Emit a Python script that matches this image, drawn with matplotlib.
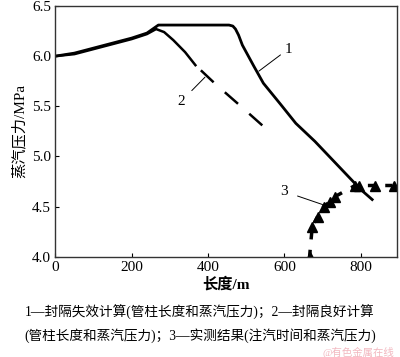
import matplotlib
matplotlib.use("Agg")
import matplotlib.pyplot as plt

plt.rcParams['font.family'] = ['Liberation Serif', 'Noto Sans CJK SC']
plt.rcParams['axes.unicode_minus'] = False

# Curve 1: seal failure calculation
c1_x = [0, 50, 100, 150, 200, 240, 270, 400, 455, 465, 472, 480, 490, 520, 545, 590, 630, 680, 725, 760, 800, 830]
c1_y = [6.00, 6.03, 6.08, 6.13, 6.18, 6.23, 6.31, 6.31, 6.31, 6.30, 6.27, 6.21, 6.11, 5.90, 5.73, 5.52, 5.33, 5.15, 4.97, 4.83, 4.67, 4.57]
# Curve 2: good seal calculation
c2_x = [0, 50, 100, 150, 200, 240, 264, 285, 309, 340, 367, 420, 480, 545]
c2_y = [6.00, 6.02, 6.07, 6.12, 6.17, 6.22, 6.27, 6.24, 6.16, 6.04, 5.91, 5.72, 5.52, 5.30]
c2_solid_n = 11  # first points drawn solid, remainder dashed
# Series 3: measured
m_x = [666, 673, 687, 703, 720, 733, 785, 795, 838, 888]
m_y = [4.00, 4.30, 4.40, 4.50, 4.55, 4.60, 4.71, 4.71, 4.71, 4.71]

x_ticks = [0, 200, 400, 600, 800]
y_ticks = [4.0, 4.5, 5.0, 5.5, 6.0, 6.5]

fig = plt.figure(figsize=(4.0, 3.57), dpi=100)
ax = fig.add_axes([55.3/400, 1-256.7/357, (397-55.3)/400, (256.7-6)/357])

ax.plot(c1_x, c1_y, color='black', lw=2.0, solid_joinstyle='round')
ax.plot(c2_x[:c2_solid_n], c2_y[:c2_solid_n], color='black', lw=1.8)
ax.plot(c2_x[c2_solid_n-1:], c2_y[c2_solid_n-1:], color='black', lw=1.8, dashes=(0, 3, 7, 3))
ax.plot(m_x, m_y, color='black', lw=2.5, linestyle=(0, (2, 3)))
ax.plot(m_x, m_y, linestyle='none', marker='^', color='black', markersize=7)

ax.set_xlim(0, 895)
ax.set_ylim(4.0, 6.5)
ax.set_xticks(x_ticks)
ax.set_yticks(y_ticks)
ax.set_xticklabels([str(v) for v in x_ticks])
ax.set_yticklabels([f"{v:.1f}" for v in y_ticks])
ax.tick_params(direction='in', length=3, width=0.8, labelsize=11, pad=3)
for s in ax.spines.values():
    s.set_linewidth(1.0)
    s.set_color('#333333')

# annotations
ax.annotate('1', xy=(533, 5.85), xytext=(600, 6.07), fontsize=11,
            ha='left', va='center', arrowprops=dict(arrowstyle='-', lw=0.7, color='black', shrinkA=1, shrinkB=0))
ax.annotate('2', xy=(392, 5.79), xytext=(330, 5.55), fontsize=11,
            ha='center', va='center', arrowprops=dict(arrowstyle='-', lw=0.7, color='black', shrinkA=4, shrinkB=0))
ax.annotate('3', xy=(700, 4.52), xytext=(600, 4.65), fontsize=11,
            ha='center', va='center', arrowprops=dict(arrowstyle='-', lw=0.7, color='black', shrinkA=5, shrinkB=0))

ax.set_xlabel('长度/m', fontsize=11, fontweight='bold', labelpad=2)
ax.set_ylabel('蒸汽压力/MPa', fontsize=11, labelpad=4)

fig.text(0.5, 1-312/357, '1—封隔失效计算(管柱长度和蒸汽压力)；2—封隔良好计算', ha='center', va='center', fontsize=9.8)
fig.text(0.5, 1-336/357, '(管柱长度和蒸汽压力)；3—实测结果(注汽时间和蒸汽压力)', ha='center', va='center', fontsize=9.8)
fig.text(0.985, 1-352/357, '@有色金属在线', ha='right', va='center', fontsize=7.5, color='#f2b8c0')

fig.savefig('out.png', dpi=100)
